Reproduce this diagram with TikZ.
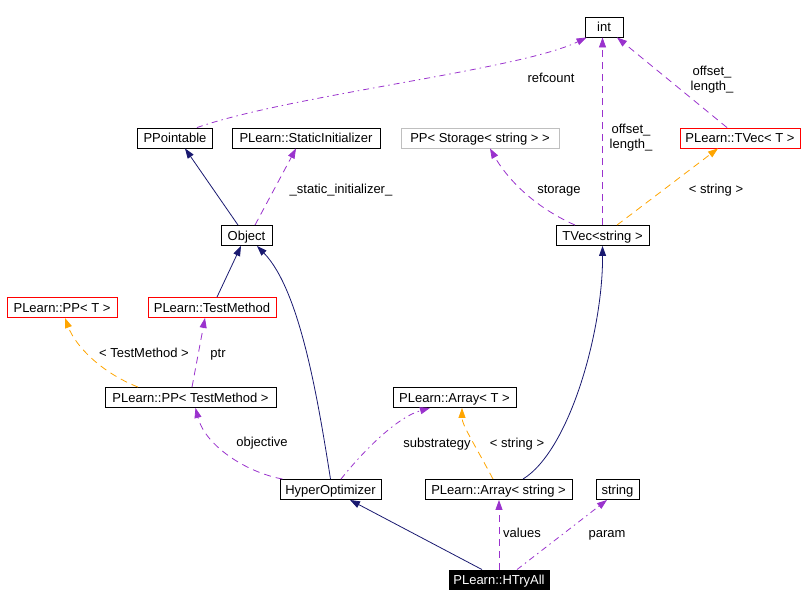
\documentclass[tikz,border=0pt]{standalone}
\usepackage{fontspec}
\setmainfont{Liberation Sans}
\usetikzlibrary{arrows.meta}
\definecolor{inh}{HTML}{191970}
\definecolor{usec}{HTML}{9A32CD}
\definecolor{tplc}{HTML}{FFA500}
\definecolor{grayb}{HTML}{BFBFBF}
\definecolor{redb}{HTML}{FF0000}
\begin{document}
\begin{tikzpicture}[x=1pt,y=-1pt,
  cls/.style={draw=black, line width=0.9pt, inner sep=0pt, minimum height=20pt,
    text height=9.5pt, text depth=0pt,
    font=\fontsize{13}{15}\selectfont, anchor=center},
  redcls/.style={cls, draw=redb},
  graycls/.style={cls, draw=grayb},
  maincls/.style={cls, fill=black, text=white, minimum height=19pt},
  lbl/.style={font=\fontsize{13}{15}\selectfont, inner sep=0pt, text height=9.5pt, text depth=0pt},
  lbl2/.style={font=\fontsize{13}{15}\selectfont, inner sep=0pt, align=center},
  tip/.style={-{Triangle[length=10pt,width=7pt]}},
  inhedge/.style={draw=inh, line width=0.8pt, tip},
  useedge/.style={draw=usec, line width=0.8pt, dash pattern=on 7pt off 5pt, tip},
  usedot/.style={draw=usec, line width=0.8pt, dash pattern=on 6pt off 4pt on 1.5pt off 4pt, tip},
  tpledge/.style={draw=tplc, line width=0.8pt, dash pattern=on 7pt off 5pt, tip}
]
\useasboundingbox (0,0) rectangle (805,606);

% nodes
\node[cls, minimum width=38pt] (int) at (604,27) {int};
\node[cls, minimum width=75pt] (PPointable) at (175,138) {PPointable};
\node[cls, minimum width=148pt] (StaticInit) at (306,138) {PLearn::StaticInitializer};
\node[graycls, minimum width=158pt] (PPStorage) at (480,138) {PP< Storage< string > >};
\node[redcls, minimum width=120pt] (TVecT) at (740,138) {PLearn::TVec< T >};
\node[cls, minimum width=51pt] (Object) at (246.5,235.5) {Object};
\node[cls, minimum width=93pt] (TVecstring) at (602.5,235.5) {TVec<string >};
\node[redcls, minimum width=110pt] (PPT) at (62,307.5) {PLearn::PP< T >};
\node[redcls, minimum width=128pt] (TestMethod) at (212,307.5) {PLearn::TestMethod};
\node[cls, minimum width=171pt] (PPTestMethod) at (190.5,397.5) {PLearn::PP< TestMethod >};
\node[cls, minimum width=123pt] (ArrayT) at (454.5,397.5) {PLearn::Array< T >};
\node[cls, minimum width=101pt] (HyperOpt) at (330.5,489.5) {HyperOptimizer};
\node[cls, minimum width=147pt] (Arraystring) at (498.5,489.5) {PLearn::Array< string >};
\node[cls, minimum width=43pt] (string) at (617.5,489.5) {string};
\node[maincls, minimum width=100pt] (HTryAll) at (499,579.5) {PLearn::HTryAll};

% edges
\draw[usedot] ([xshift=22pt]PPointable.north) .. controls (290,95) and (520,70) .. ([xshift=2pt]int.south west);
\draw[useedge] (TVecstring.north) -- (TVecstring.north |- int.south);
\draw[useedge] ([xshift=-13pt]TVecT.north) -- ([xshift=13pt]int.south);
\draw[inhedge] ([xshift=-8.5pt]Object.north) -- ([xshift=10pt]PPointable.south);
\draw[useedge] ([xshift=8.5pt]Object.north) -- ([xshift=-10pt]StaticInit.south);
\draw[useedge] ([xshift=-27.5pt]TVecstring.north) .. controls (530,205) and (505,175) .. ([xshift=10pt]PPStorage.south);
\draw[tpledge] ([xshift=14.5pt]TVecstring.north) -- ([xshift=-22pt]TVecT.south);
\draw[inhedge] ([xshift=5pt]TestMethod.north) -- ([xshift=-5.5pt]Object.south);
\draw[inhedge] (HyperOpt.north) .. controls (318,400) and (300,290) .. ([xshift=10.5pt]Object.south);
\draw[tpledge] ([xshift=-52.5pt]PPTestMethod.north) .. controls (100,372) and (75,345) .. ([xshift=3pt]PPT.south);
\draw[useedge] ([xshift=1.5pt]PPTestMethod.north) -- ([xshift=-7pt]TestMethod.south);
\draw[useedge] ([xshift=3pt]HyperOpt.north west) .. controls (245,472) and (205,445) .. ([xshift=5pt]PPTestMethod.south);
\draw[usedot] ([xshift=10.5pt]HyperOpt.north) .. controls (360,455) and (395,418) .. ([xshift=-24.5pt]ArrayT.south);
\draw[tpledge] ([xshift=-5.5pt]Arraystring.north) .. controls (475,445) and (462,425) .. ([xshift=7.5pt]ArrayT.south);
\draw[inhedge] ([xshift=24.5pt]Arraystring.north) .. controls (570,450) and (603,330) .. (TVecstring.south);
\draw[inhedge] ([xshift=-17pt]HTryAll.north) -- ([xshift=19.5pt]HyperOpt.south);
\draw[useedge] (HTryAll.north) -- (HTryAll.north |- Arraystring.south);
\draw[usedot] ([xshift=18pt]HTryAll.north) -- ([xshift=-10.5pt]string.south);

% labels
\node[lbl] (lrefcount) at (551,78) {refcount};
\node[lbl2] (loffset1) at (631,138) {offset\_\\length\_};
\node[lbl2] (loffset2) at (712,80) {offset\_\\length\_};
\node[lbl] (lstatic) at (341,189) {\_static\_initializer\_};
\node[lbl] (lstorage) at (559,189) {storage};
\node[lbl] (lstring1) at (716,189) {< string >};
\node[lbl] (ltm) at (144,353) {< TestMethod >};
\node[lbl] (lptr) at (218,353) {ptr};
\node[lbl] (lobj) at (262,442) {objective};
\node[lbl] (lsub) at (437,443) {substrategy};
\node[lbl] (lstring2) at (517,443) {< string >};
\node[lbl] (lvalues) at (522,533) {values};
\node[lbl] (lparam) at (607,533) {param};
\end{tikzpicture}
\end{document}
